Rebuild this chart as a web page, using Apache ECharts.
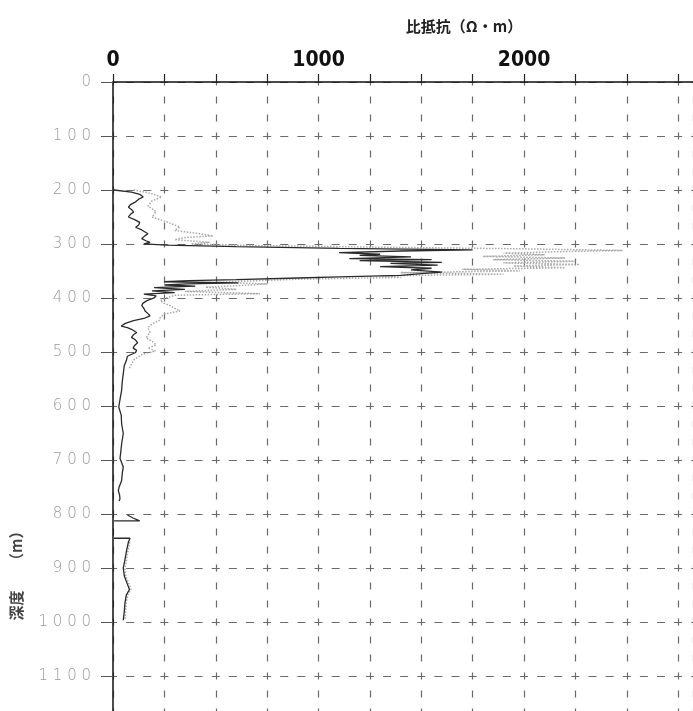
<!DOCTYPE html>
<html>
<head>
<meta charset="utf-8">
<script src="https://cdn.jsdelivr.net/npm/echarts@6/dist/echarts.min.js"></script>
<style>
html,body{margin:0;padding:0;background:#fff;}
#c{width:693px;height:711px;}
</style>
</head>
<body>
<div id="c"></div>
<script>
// Resistivity axis ticks (Ω·m) and depth ticks (m)
var resTicks = [0, 1000, 2000];
var depthTicks = [0, 100, 200, 300, 400, 500, 600, 700, 800, 900, 1000, 1100];

// Solid curve: depth (m) and resistivity (Ω·m); null = gap
var solidDepth = [200,201,204,208,213,217,222,227,232,236,241,245,250,255,260,265,269,274,281,285,290,294,297,300,
  302,305,308,311,313,316,319,321,324,327,329,331,334,336,339,342,345,348,352,355,358,361,363,366,368,370,372,374,376,378,381,384,387,390,393,396,
  400,405,410,414,419,424,429,433,438,442,447,452,455,458,464,468,473,478,483,488,493,497,501,508,516,525,540,555,571,586,602,617,633,651,670,685,697,713,725,738,750,757,765,772,776,
  790,
  802,808,813,813,
  830,
  845,845,852,870,885,900,915,930,940,950,965,980,997];
var solidRes = [5,10,90,130,147,125,110,85,75,90,100,85,75,105,130,125,110,140,170,155,140,160,180,150,
  260,600,1100,1750,1400,1100,1300,1200,1450,1150,1550,1200,1600,1350,1580,1300,1550,1450,1600,1500,1400,1100,900,600,370,250,610,360,250,400,200,350,190,300,150,210,
  200,165,145,140,150,156,170,180,150,100,60,40,70,90,115,100,90,110,120,105,98,115,110,70,65,55,50,45,42,35,28,40,42,50,42,38,34,50,45,42,30,26,32,34,30,
  null,
  70,100,130,5,
  null,
  5,83,75,65,58,50,55,70,80,65,58,55,50];

// Dotted curve: depth (m) and resistivity (Ω·m); null = gap
var dotDepth = [200,206,213,220,230,240,250,260,269,275,281,285,288,292,297,300,303,306,309,312,314,317,320,323,326,329,332,335,338,341,344,347,350,353,356,359,362,365,368,371,374,377,380,384,388,392,395,
  400,405,410,414,419,424,430,436,442,448,455,464,474,480,487,493,498,505,515,530,
  600,
  852,870,885,900,915,930,940,950,965,980,995];
var dotRes = [100,180,237,190,170,210,190,268,326,300,423,487,350,300,470,380,700,1300,2000,2480,2200,1900,2100,1800,2200,1850,2250,1900,2270,1950,2200,1700,1980,1400,1900,1300,1400,925,700,500,750,618,450,600,350,715,300,
  260,230,250,277,300,326,250,230,224,190,170,180,161,190,210,170,207,140,100,80,
  null,
  82,72,66,58,62,78,88,72,64,62,58];

function pairs(depth, res) {
  return depth.map(function (d, i) { return res[i] === null ? ['-', d] : [res[i], d]; });
}

var chart = echarts.init(document.getElementById('c'), null, {renderer: 'canvas'});
var gridColor = '#6a6a6a';
chart.setOption({
  animation: false,
  backgroundColor: '#fff',
  grid: {left: 113, top: 82, right: 0, bottom: 0, containLabel: false},
  xAxis: {
    type: 'value', position: 'top', min: 0, max: 2822, interval: 250,
    axisLine: {show: true, lineStyle: {color: '#111', width: 1.5}},
    axisTick: {show: true, length: 8, lineStyle: {color: '#222', width: 1.2}},
    axisLabel: {
      margin: 11, color: '#111', fontSize: 21, fontWeight: 'bold', showMaxLabel: false,
      fontFamily: '"Liberation Sans Narrow", "DejaVu Sans Condensed", sans-serif',
      formatter: function (v) { return resTicks.indexOf(v) >= 0 ? String(v) : ''; }
    },
    splitLine: {show: true, lineStyle: {color: gridColor, width: 1.2, type: [7, 11], dashOffset: 3.5}}
  },
  yAxis: {
    type: 'value', inverse: true, min: 0, max: 1165, interval: 100,
    axisLine: {show: true, onZero: false, lineStyle: {color: '#111', width: 1.5}},
    axisTick: {show: true, length: 12, lineStyle: {color: '#555', width: 1}},
    axisLabel: {
      margin: 22, color: '#999', fontSize: 15, fontWeight: 200, showMaxLabel: false,
      fontFamily: '"DejaVu Sans", sans-serif',
      formatter: function (v) { return depthTicks.indexOf(v) >= 0 ? String(v).split('').join(' ') : ''; }
    },
    splitLine: {show: true, lineStyle: {color: gridColor, width: 1.2, type: [8, 9.125], dashOffset: 4}}
  },
  graphic: [
    {type: 'text', x: 464, y: 26, style: {text: '比抵抗（Ω・m）', fill: '#222', fontSize: 15, fontWeight: 'bold',
      fontFamily: '"Noto Sans CJK JP", sans-serif', align: 'center', verticalAlign: 'middle'}},
    {type: 'text', x: 16, y: 572, rotation: Math.PI / 2, style: {text: '深度　　（m）', fill: '#444', fontSize: 15, fontWeight: 'bold',
      fontFamily: '"Noto Sans CJK JP", sans-serif', align: 'center', verticalAlign: 'middle'}}
  ],
  series: [
    {type: 'line', data: pairs(dotDepth, dotRes), showSymbol: false, connectNulls: false, z: 3,
      lineStyle: {color: '#a8a8a8', width: 1.5, type: 'dotted'}},
    {type: 'line', data: pairs(solidDepth, solidRes), showSymbol: false, connectNulls: false, z: 4,
      lineStyle: {color: '#2a2a2a', width: 1.3}}
  ]
});
</script>
</body>
</html>
